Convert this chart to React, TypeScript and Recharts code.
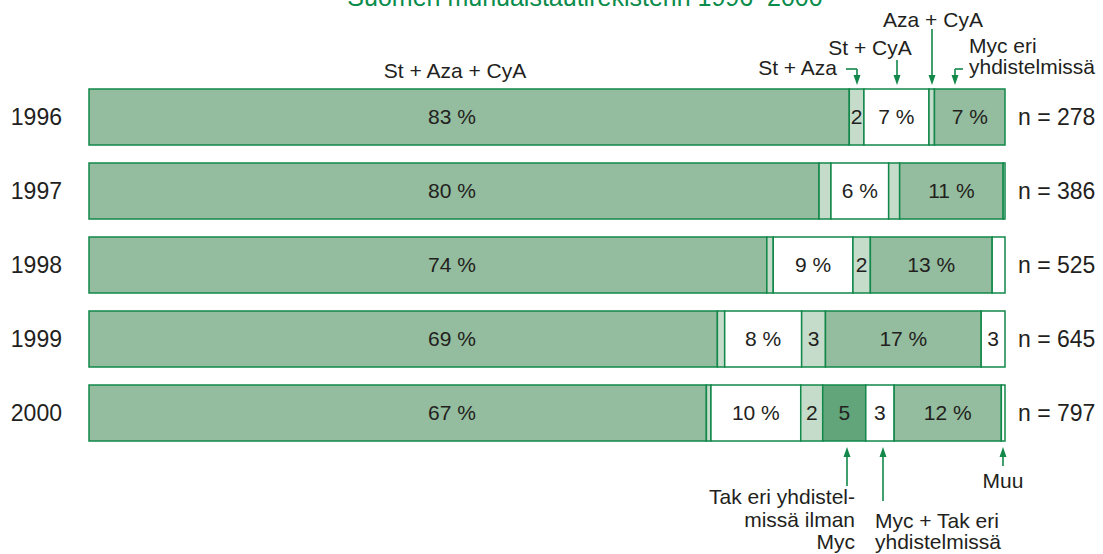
import React from "react";
import { BarChart, Bar, XAxis, YAxis, LabelList } from "recharts";

const years = ["1996", "1997", "1998", "1999", "2000"];
const nLabels = ["n = 278", "n = 386", "n = 525", "n = 645", "n = 797"];

// share of patients (%) per drug combination
const stAzaCya = [83, 79.7, 74.0, 68.6, 67.4];
const stAza = [1.6, 1.3, 0.7, 0.8, 0.5];
const stCya = [7.1, 6.3, 8.7, 8.4, 9.8];
const azaCya = [0.6, 1.2, 1.9, 2.6, 2.4];
const takNoMyc = [0, 0, 0, 0, 4.7];
const mycTak = [0, 0, 0, 0, 3.1];
const mycOther = [7.7, 11.3, 13.3, 17.0, 11.7];
const other = [0, 0.2, 1.4, 2.6, 0.4];

const stAzaCyaLabels = ["83 %", "80 %", "74 %", "69 %", "67 %"];
const stAzaLabels = ["2", "", "", "", ""];
const stCyaLabels = ["7 %", "6 %", "9 %", "8 %", "10 %"];
const azaCyaLabels = ["", "", "2", "3", "2"];
const takNoMycLabels = ["", "", "", "", "5"];
const mycTakLabels = ["", "", "", "", "3"];
const mycOtherLabels = ["7 %", "11 %", "13 %", "17 %", "12 %"];
const otherLabels = ["", "", "", "3", ""];

const series = [
  { values: stAzaCya, labels: stAzaCyaLabels, fill: "#94bc9e" },
  { values: stAza, labels: stAzaLabels, fill: "#c5dccb" },
  { values: stCya, labels: stCyaLabels, fill: "#ffffff" },
  { values: azaCya, labels: azaCyaLabels, fill: "#c5dccb" },
  { values: takNoMyc, labels: takNoMycLabels, fill: "#62a57a" },
  { values: mycTak, labels: mycTakLabels, fill: "#ffffff" },
  { values: mycOther, labels: mycOtherLabels, fill: "#94bc9e" },
  { values: other, labels: otherLabels, fill: "#ffffff" },
];

const data = years.map((year, i) => {
  const row: any = { year, n: nLabels[i] };
  series.forEach((s, k) => {
    row["s" + k] = s.values[i];
    row["l" + k] = s.labels[i];
  });
  return row;
});

const FONT = "'Liberation Sans', Arial, Helvetica, sans-serif";
const TEXT = "#231f20";
const GREEN = "#12884a";

const segLabel = (first: boolean) => (props: any) => {
  const { x, y, width, height, value } = props;
  if (!value) return null;
  const cx = first ? x + 363 : x + width / 2;
  return (
    <text x={cx} y={y + height / 2} dy="0.35em" textAnchor="middle" fontSize={21} fill={TEXT} fontFamily={FONT}>
      {value}
    </text>
  );
};

const YearTick = (props: any) => (
  <text x={62} y={props.y} dy="0.35em" textAnchor="end" fontSize={23} fill={TEXT} fontFamily={FONT}>
    {props.payload.value}
  </text>
);

const NTick = (props: any) => (
  <text x={1018} y={props.y} dy="0.35em" textAnchor="start" fontSize={23} fill={TEXT} fontFamily={FONT}>
    {props.payload.value}
  </text>
);

const Arrow = ({ x, y1, y2, elbowX }: { x: number; y1: number; y2: number; elbowX?: number }) => {
  const dir = y2 > y1 ? 1 : -1;
  const tip = y2;
  const base = y2 - dir * 10;
  return (
    <g>
      {elbowX !== undefined && <line x1={elbowX} y1={y1} x2={x} y2={y1} stroke={GREEN} strokeWidth={1.6} />}
      <line x1={x} y1={y1} x2={x} y2={base} stroke={GREEN} strokeWidth={1.6} />
      <polygon points={`${x - 3.5},${base} ${x + 3.5},${base} ${x},${tip}`} fill={GREEN} />
    </g>
  );
};

export default function App() {
  const t = { fontSize: 21, fill: TEXT, fontFamily: FONT };
  return (
    <div style={{ position: "absolute", left: 0, top: 0, width: 1103, height: 554, background: "#fff" }}>
      <BarChart
        width={1103}
        height={554}
        data={data}
        layout="vertical"
        margin={{ top: 80, right: 0, bottom: 104, left: 0 }}
        barSize={56}
      >
        <XAxis type="number" domain={[0, 100]} hide />
        <YAxis type="category" dataKey="year" width={89} axisLine={false} tickLine={false} tick={<YearTick />} />
        <YAxis
          yAxisId="n"
          orientation="right"
          type="category"
          dataKey="n"
          width={98}
          axisLine={false}
          tickLine={false}
          tick={<NTick />}
        />
        {series.map((s, k) => (
          <Bar
            key={k}
            dataKey={"s" + k}
            stackId="a"
            fill={s.fill}
            stroke={GREEN}
            strokeWidth={1.5}
            isAnimationActive={false}
          >
            <LabelList dataKey={"l" + k} content={segLabel(k === 0)} />
          </Bar>
        ))}
      </BarChart>
      <svg width={1103} height={554} style={{ position: "absolute", left: 0, top: 0, pointerEvents: "none" }}>
        <text x={585} y={6} textAnchor="middle" fontSize={25} fill="#0a8c4c" fontFamily={FONT}>
          Suomen munuaistautirekisterin 1996–2000
        </text>
        <text x={455} y={78} textAnchor="middle" {...t}>St + Aza + CyA</text>
        <text x={837} y={75} textAnchor="end" {...t}>St + Aza</text>
        <text x={870} y={55} textAnchor="middle" {...t}>St + CyA</text>
        <text x={933} y={27} textAnchor="middle" {...t}>Aza + CyA</text>
        <text x={969} y={53} textAnchor="start" {...t}>Myc eri</text>
        <text x={969} y={74} textAnchor="start" {...t}>yhdistelmissä</text>
        <Arrow x={857} y1={69} y2={85} elbowX={846} />
        <Arrow x={897} y1={60} y2={85} />
        <Arrow x={932} y1={29} y2={85} />
        <Arrow x={955} y1={69} y2={85} elbowX={963} />

        <Arrow x={847} y1={486} y2={447} />
        <Arrow x={883} y1={501} y2={447} />
        <Arrow x={1003} y1={466} y2={447} />
        <text x={855} y={504} textAnchor="end" {...t}>Tak eri yhdistel-</text>
        <text x={855} y={527} textAnchor="end" {...t}>missä ilman</text>
        <text x={855} y={549} textAnchor="end" {...t}>Myc</text>
        <text x={875} y={528} textAnchor="start" {...t}>Myc + Tak eri</text>
        <text x={875} y={549} textAnchor="start" {...t}>yhdistelmissä</text>
        <text x={1003} y={488} textAnchor="middle" {...t}>Muu</text>
      </svg>
    </div>
  );
}
